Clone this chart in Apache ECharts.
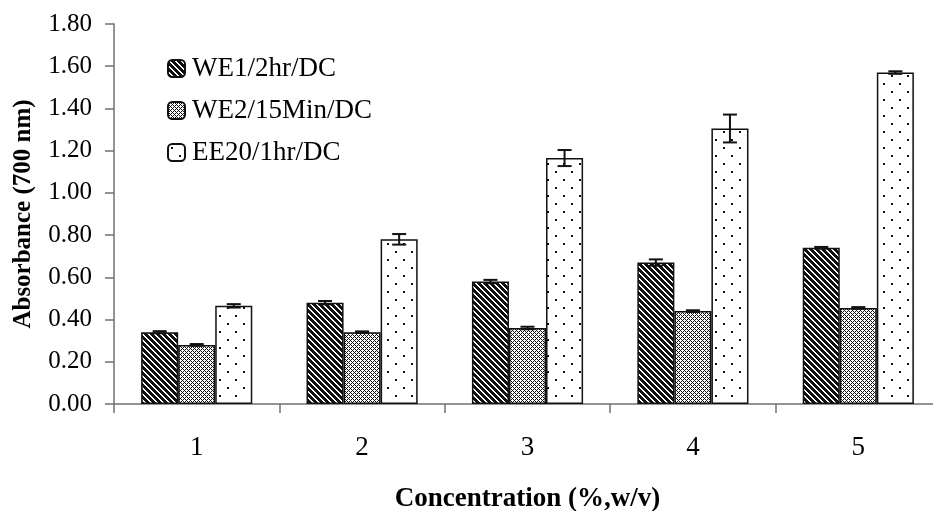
<!DOCTYPE html>
<html>
<head>
<meta charset="utf-8">
<script src="https://cdn.jsdelivr.net/npm/echarts@6/dist/echarts.min.js"></script>
<style>
html,body{margin:0;padding:0;background:#fff;}
#chart{width:933px;height:511px;}
</style>
</head>
<body>
<div id="chart"></div>
<script>
var categories = ['1', '2', '3', '4', '5'];
var seriesNames = ['WE1/2hr/DC', 'WE2/15Min/DC', 'EE20/1hr/DC'];
var we1 = [0.34, 0.48, 0.58, 0.67, 0.74];
var we2 = [0.28, 0.34, 0.36, 0.44, 0.455];
var ee20 = [0.465, 0.78, 1.165, 1.305, 1.57];
var we1Err = [0.005, 0.008, 0.008, 0.015, 0.004];
var we2Err = [0.004, 0.004, 0.006, 0.004, 0.004];
var ee20Err = [0.008, 0.025, 0.038, 0.066, 0.006];
var yTicks = [0, 0.2, 0.4, 0.6, 0.8, 1.0, 1.2, 1.4, 1.6, 1.8];

var FONT = "'Liberation Serif','Times New Roman',serif";

function makeCanvas(w, h, draw) {
  var c = document.createElement('canvas');
  c.width = w; c.height = h;
  var ctx = c.getContext('2d');
  draw(ctx, w, h);
  return c;
}
// diagonal stripes "\" : black with thin white lines
var stripeCanvas = makeCanvas(6, 6, function (ctx, w, h) {
  ctx.fillStyle = '#111';
  ctx.fillRect(0, 0, w, h);
  ctx.fillStyle = '#fff';
  for (var y = 0; y < h; y++) {
    for (var x = 0; x < w; x++) {
      var d = ((x - y) % 6 + 6) % 6;
      if (d === 0 || d === 1) ctx.fillRect(x, y, 1, 1);
    }
  }
});
// fine checker (lighter dither)
var checkCanvas = makeCanvas(4, 4, function (ctx, w, h) {
  ctx.fillStyle = '#fff';
  ctx.fillRect(0, 0, w, h);
  ctx.fillStyle = '#111';
  for (var y = 0; y < h; y++) {
    for (var x = 0; x < w; x++) {
      if ((x + y) % 2 === 0 && !((x % 4 === 2 && y % 4 === 2) || (x % 4 === 0 && y % 4 === 0))) ctx.fillRect(x, y, 1, 1);
    }
  }
});
// sparse dots
var dotCanvas = makeCanvas(16, 16, function (ctx, w, h) {
  ctx.fillStyle = '#fff';
  ctx.fillRect(0, 0, w, h);
  ctx.fillStyle = '#111';
  ctx.fillRect(3, 3, 2, 2);
  ctx.fillRect(11, 11, 2, 2);
});

var patterns = [
  { image: stripeCanvas, repeat: 'repeat' },
  { image: checkCanvas, repeat: 'repeat' },
  { image: dotCanvas, repeat: 'repeat' }
];

var values = [we1, we2, ee20];
var errs = [we1Err, we2Err, ee20Err];
var BAR_FRAC = 0.224;

function barSeries(i) {
  return {
    name: seriesNames[i],
    type: 'bar',
    data: values[i],
    barWidth: (BAR_FRAC * 100) + '%',
    barGap: '0%',
    itemStyle: { color: patterns[i], borderColor: '#111', borderWidth: 1.5 },
    emphasis: { disabled: true }
  };
}

function errSeries(i) {
  var data = values[i].map(function (v, k) { return [k, v, errs[i][k]]; });
  return {
    type: 'custom',
    name: seriesNames[i] + ' err',
    data: data,
    z: 10,
    silent: true,
    renderItem: function (params, api) {
      var k = api.value(0), v = api.value(1), e = api.value(2);
      var catW = api.size([1, 0])[0];
      var bw = catW * BAR_FRAC;
      var c = api.coord([k, v]);
      var x = c[0] + (i - 1) * bw;
      var top = api.coord([k, v + e])[1];
      var bot = api.coord([k, v - e])[1];
      var hw = 7;
      var style = { stroke: '#111', lineWidth: 2 };
      return {
        type: 'group',
        children: [
          { type: 'line', shape: { x1: x, y1: top, x2: x, y2: bot }, style: style },
          { type: 'line', shape: { x1: x - hw, y1: top, x2: x + hw, y2: top }, style: style },
          { type: 'line', shape: { x1: x - hw, y1: bot, x2: x + hw, y2: bot }, style: style }
        ]
      };
    }
  };
}

var chart = echarts.init(document.getElementById('chart'), null, { renderer: 'canvas' });
chart.setOption({
  animation: false,
  backgroundColor: '#fff',
  textStyle: { fontFamily: FONT, color: '#000' },
  grid: { left: 114, right: -8, top: 24, bottom: 107, containLabel: false, outerBoundsMode: 'none' },
  legend: {
    data: seriesNames,
    orient: 'vertical',
    left: 162,
    top: 50,
    itemWidth: 17,
    itemHeight: 17,
    itemGap: 15,
    textStyle: { fontFamily: FONT, fontSize: 27, color: '#000', padding: [0, 0, 0, 2] }
  },
  xAxis: {
    type: 'category',
    data: categories,
    name: 'Concentration (%,w/v)',
    nameLocation: 'middle',
    nameGap: 82,
    nameTextStyle: { fontFamily: FONT, fontSize: 27, fontWeight: 'bold', color: '#000' },
    axisLine: { lineStyle: { color: '#707070', width: 1.5 } },
    axisTick: { show: true, length: 9, lineStyle: { color: '#707070', width: 1.5 } },
    axisLabel: { fontFamily: FONT, fontSize: 27, color: '#000', margin: 30 },
    splitLine: { show: false }
  },
  yAxis: {
    type: 'value',
    min: yTicks[0],
    max: yTicks[yTicks.length - 1],
    interval: 0.2,
    name: 'Absorbance (700 nm)',
    nameLocation: 'middle',
    nameGap: 78,
    nameTextStyle: { fontFamily: FONT, fontSize: 25, fontWeight: 'bold', color: '#000' },
    axisLine: { show: true, lineStyle: { color: '#707070', width: 1.5 } },
    axisTick: { show: true, length: 9, lineStyle: { color: '#707070', width: 1.5 } },
    axisLabel: {
      fontFamily: FONT, fontSize: 25, color: '#000', margin: 22,
      formatter: function (v) { return v.toFixed(2); }
    },
    splitLine: { show: false }
  },
  series: [barSeries(0), barSeries(1), barSeries(2), errSeries(0), errSeries(1), errSeries(2)]
});
</script>
</body>
</html>
